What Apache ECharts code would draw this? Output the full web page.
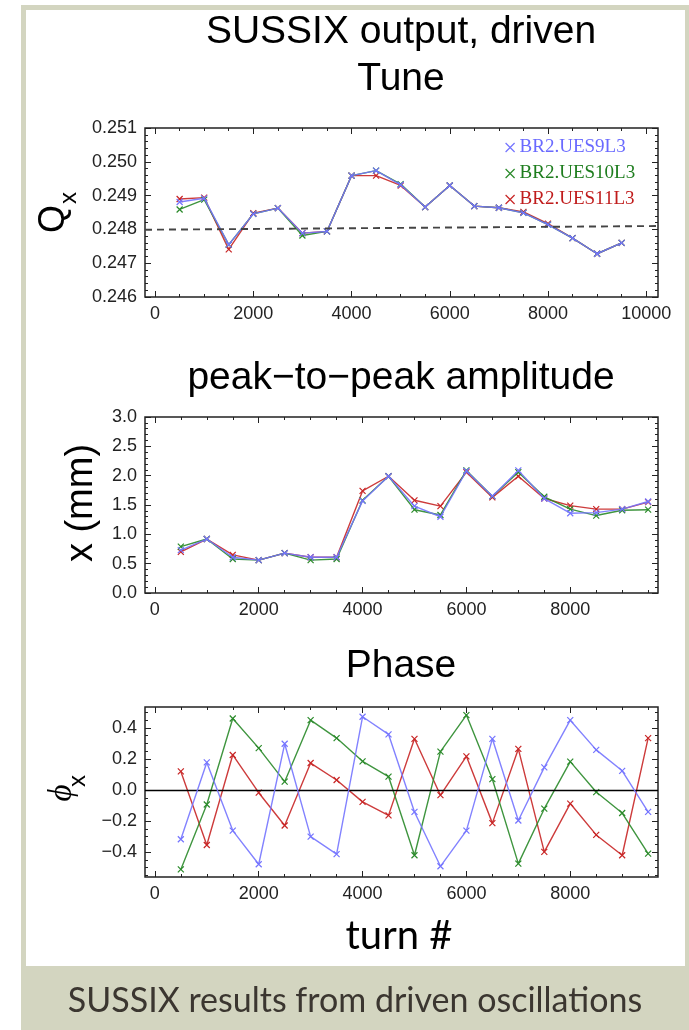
<!DOCTYPE html>
<html>
<head>
<meta charset="utf-8">
<script src="https://cdn.jsdelivr.net/npm/echarts@6/dist/echarts.min.js"></script>
<style>
html,body{margin:0;padding:0;background:#fff;}
#chart{width:689px;height:1030px;}
</style>
</head>
<body>
<div id="chart"></div>
<script>
// ---------- data ----------
const turns = [500,1000,1500,2000,2500,3000,3500,4000,4500,5000,5500,6000,6500,7000,7500,8000,8500,9000,9500];
const seriesNames = ['BR2.UES9L3','BR2.UES10L3','BR2.UES11L3'];

const tuneUES9  = [0.24881,0.24892,0.24755,0.24846,0.24863,0.24789,0.24794,0.24959,0.24974,0.24932,0.24866,0.24930,0.24869,0.24864,0.24849,0.24814,0.24774,0.24728,0.24760];
const tuneUES10 = [0.24859,0.24888,0.24755,0.24846,0.24863,0.24782,0.24794,0.24959,0.24974,0.24934,0.24866,0.24930,0.24869,0.24864,0.24849,0.24814,0.24774,0.24728,0.24760];
const tuneUES11 = [0.24890,0.24894,0.24741,0.24848,0.24863,0.24789,0.24794,0.24959,0.24959,0.24930,0.24866,0.24930,0.24869,0.24864,0.24852,0.24817,0.24774,0.24728,0.24760];
const tuneRefX = [-205, 10240];
const tuneRefY = [0.24799, 0.24810];

const ampUES9  = [0.73,0.92,0.61,0.56,0.68,0.61,0.61,1.57,1.99,1.48,1.30,2.08,1.65,2.09,1.61,1.36,1.37,1.43,1.56];
const ampUES10 = [0.79,0.92,0.58,0.56,0.68,0.56,0.58,1.58,1.99,1.42,1.33,2.09,1.65,2.06,1.64,1.43,1.32,1.41,1.42];
const ampUES11 = [0.70,0.92,0.65,0.56,0.68,0.61,0.61,1.74,1.99,1.58,1.48,2.06,1.63,1.99,1.61,1.49,1.43,1.43,1.55];

const phaseUES9  = [-0.317,0.178,-0.261,-0.478,0.298,-0.300,-0.413,0.472,0.359,-0.141,-0.491,-0.261,0.330,-0.196,0.146,0.450,0.259,0.124,-0.141];
const phaseUES10 = [-0.511,-0.093,0.461,0.270,0.054,0.450,0.335,0.185,0.087,-0.420,0.248,0.483,0.070,-0.474,-0.120,0.183,-0.013,-0.148,-0.409];
const phaseUES11 = [0.120,-0.354,0.226,-0.017,-0.228,0.174,0.065,-0.076,-0.163,0.330,-0.033,0.217,-0.213,0.265,-0.398,-0.087,-0.289,-0.420,0.335];

// tick labels
const tuneXTicks = [0,2000,4000,6000,8000,10000];
const tuneYTicks = [0.246,0.247,0.248,0.249,0.250,0.251];
const turnXTicks = [0,2000,4000,6000,8000];
const ampYTicks = [0,0.5,1.0,1.5,2.0,2.5,3.0];
const phaseYTicks = [-0.4,-0.2,0,0.2,0.4];

// ---------- style ----------
const colors = ['#7474ff','#2a8a2a','#c82626'];
const legendColors = ['#6a6aff','#1e7d1e','#c01c1c'];
const cross = 'path://M0,0L10,10M10,0L0,10';
const labelFont = {fontFamily:'Liberation Sans', fontSize:18, color:'#222'};

function steps(a, b, s) { const r=[]; const n=Math.round((b-a)/s); for(let i=0;i<=n;i++) r.push(+(a+i*s).toFixed(6)); return r; }

const grids = [
  {left:145, top:128, width:513, height:169},
  {left:145, top:417, width:513, height:176},
  {left:145, top:707, width:513, height:170}
];

const panelAxes = [
  {xmin:-205, xmax:10240, xMaj:tuneXTicks, xMin:steps(0,10000,500), xLab:tuneXTicks,
   ymin:0.246, ymax:0.251, yMaj:tuneYTicks, yMin:steps(0.246,0.251,0.0002), yLab:tuneYTicks, fmt:v=>v.toFixed(3)},
  {xmin:-190, xmax:9690, xMaj:turnXTicks, xMin:steps(0,9500,500), xLab:turnXTicks,
   ymin:0, ymax:3, yMaj:ampYTicks, yMin:steps(0,3,0.1), yLab:ampYTicks, fmt:v=>v.toFixed(1)},
  {xmin:-190, xmax:9690, xMaj:turnXTicks, xMin:steps(0,9500,500), xLab:turnXTicks,
   ymin:-0.56, ymax:0.535, yMaj:phaseYTicks, yMin:steps(-0.55,0.5,0.05), yLab:phaseYTicks, fmt:v=>(v<0?'\u2212':'')+Math.abs(v).toFixed(1)}
];

const xAxes=[], yAxes=[];
function ax(g, pos, min, max, ticks, len, labels, fmt) {
  return {
    type:'value', gridIndex:g, position:pos, min:min, max:max,
    splitLine:{show:false}, axisLine:{show:false, onZero:false},
    axisTick:{show:true, inside:true, length:len, lineStyle:{color:'#222', width:1}, customValues:ticks},
    axisLabel: labels ? Object.assign({show:true, customValues:labels, margin:8, formatter:fmt}, labelFont) : {show:false}
  };
}
panelAxes.forEach((p,g)=>{
  xAxes.push(ax(g,'bottom',p.xmin,p.xmax,p.xMaj,6,p.xLab,v=>String(v)));
  xAxes.push(ax(g,'bottom',p.xmin,p.xmax,p.xMin,3,null));
  xAxes.push(ax(g,'top',p.xmin,p.xmax,p.xMaj,6,null));
  xAxes.push(ax(g,'top',p.xmin,p.xmax,p.xMin,3,null));
  yAxes.push(ax(g,'left',p.ymin,p.ymax,p.yMaj,6,p.yLab,p.fmt));
  yAxes.push(ax(g,'left',p.ymin,p.ymax,p.yMin,3,null));
  yAxes.push(ax(g,'right',p.ymin,p.ymax,p.yMaj,6,null));
  yAxes.push(ax(g,'right',p.ymin,p.ymax,p.yMin,3,null));
});

function mk(idx, g, ys) {
  const c = colors[idx];
  return {
    name: seriesNames[idx], type:'line', xAxisIndex:g*4, yAxisIndex:g*4,
    data: turns.map((x,i)=>[x, ys[i]]),
    symbol: cross, symbolSize:6, showAllSymbol:true,
    lineStyle:{color:c, width:1.4, opacity:0.9},
    itemStyle:{color:c, borderColor:c, borderWidth:1.2},
    emphasis:{disabled:true}, z: 3 + (2-idx)
  };
}

const series = [
  {name:'ref', type:'line', xAxisIndex:0, yAxisIndex:0, data: tuneRefX.map((x,i)=>[x,tuneRefY[i]]),
   symbol:'none', lineStyle:{color:'#444', width:1.9, type:[7,5]}, z:6, silent:true},
  mk(2,0,tuneUES11), mk(1,0,tuneUES10), mk(0,0,tuneUES9),
  mk(2,1,ampUES11), mk(1,1,ampUES10), mk(0,1,ampUES9),
  Object.assign(mk(2,2,phaseUES11), {markLine:{silent:true, symbol:'none', label:{show:false},
     lineStyle:{color:'#000', type:'solid', width:1.4}, data:[{yAxis:0}]}}),
  mk(1,2,phaseUES10), mk(0,2,phaseUES9)
];

function txt(x, y, text, font, extra) {
  return Object.assign({type:'text', x:x, y:y, silent:true, z:50,
    style:{text:text, font:font, fill:'#000', textAlign:'center', textVerticalAlign:'middle'}}, extra||{});
}
const titleFont = '39px "Liberation Sans"';
const graphic = [
  {type:'rect', shape:{x:21, y:5, width:668, height:1025}, style:{fill:'#d3d5c0'}, z:-10, silent:true},
  {type:'rect', shape:{x:26, y:10, width:659, height:956}, style:{fill:'#ffffff'}, z:-9, silent:true},
  txt(401, 32, 'SUSSIX output, driven', titleFont),
  txt(401, 79, 'Tune', titleFont),
  txt(401, 378, 'peak\u2212to\u2212peak amplitude', titleFont),
  txt(401, 666, 'Phase', titleFont),
  txt(399, 936, 'turn #', '40px Lato'),
  txt(54, 219, 'Q', '36px "Liberation Sans"', {rotation: Math.PI/2}),
  txt(69, 198, 'x', '24px "Liberation Sans"', {rotation: Math.PI/2}),
  txt(82, 503, 'x (mm)', '38px "Liberation Sans"', {rotation: Math.PI/2}),
  txt(62, 793, '\u03D5', 'italic 33px "Liberation Serif"', {rotation: Math.PI/2}),
  txt(78, 781, 'x', '24px "Liberation Sans"', {rotation: Math.PI/2}),
  {type:'text', x:355, y:1001, silent:true, z:50,
   style:{text:'SUSSIX results from driven oscillations', font:'34px Lato', fill:'#3b3630', textAlign:'center', textVerticalAlign:'middle'}}
];

const chart = echarts.init(document.getElementById('chart'), null, {renderer:'canvas'});
chart.setOption({
  animation:false,
  backgroundColor:'#ffffff',
  grid: grids.map(g=>Object.assign({show:true, borderColor:'#222', borderWidth:1.5, backgroundColor:'transparent'}, g)),
  xAxis: xAxes,
  yAxis: yAxes,
  legend: {
    orient:'vertical', left:500, top:133, itemGap:7, icon:cross, itemWidth:9, itemHeight:9,
    selectedMode:false,
    data: seriesNames.map((n,i)=>({name:n, itemStyle:{color:colors[i], borderColor:colors[i], borderWidth:1.2},
      textStyle:{color:legendColors[i]}})),
    textStyle:{fontFamily:'Liberation Serif', fontSize:19}
  },
  series: series,
  graphic: graphic
});
</script>
</body>
</html>
